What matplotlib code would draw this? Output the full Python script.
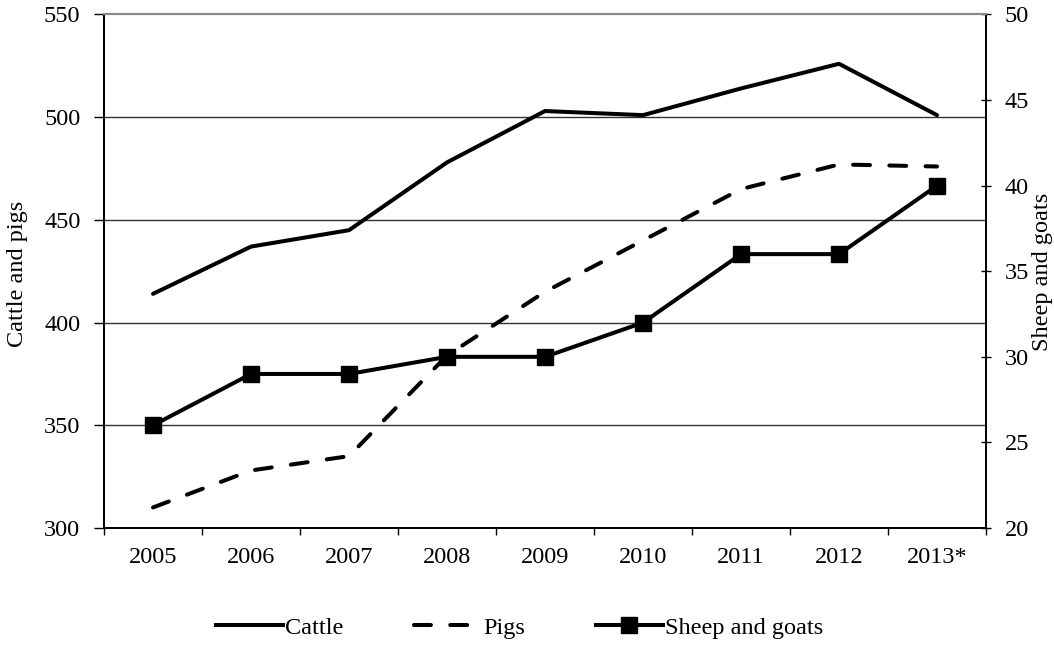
import matplotlib
matplotlib.use("Agg")
import matplotlib.pyplot as plt
from matplotlib.lines import Line2D

plt.rcParams['font.family'] = ['Liberation Serif', 'DejaVu Serif']

years = ["2005", "2006", "2007", "2008", "2009", "2010", "2011", "2012", "2013*"]
cattle = [414, 437, 445, 478, 503, 501, 514, 526, 501]
pigs = [310, 328, 335, 384, 415, 440, 465, 477, 476]
sheep_goats = [26, 29, 29, 30, 30, 32, 36, 36, 40]

left_ticks = [300, 350, 400, 450, 500, 550]
right_ticks = [20, 25, 30, 35, 40, 45, 50]

FS = 17.5
LW = 2.9
DASH = (0, (4.2, 4.8))

fig = plt.figure(figsize=(10.54, 6.5), dpi=100)
ax = fig.add_axes([0.0987, 0.1877, 0.8368, 0.79])
ax2 = ax.twinx()

x = list(range(len(years)))

# horizontal gridlines at the left-axis ticks
for v in left_ticks[1:-1]:
    ax.axhline(v, color='#333333', lw=1.0, zorder=1)

ax.plot(x, cattle, color='black', lw=LW, solid_capstyle='round',
        solid_joinstyle='round', zorder=3)
ax.plot(x, pigs, color='black', lw=LW, linestyle=DASH,
        dash_capstyle='round', zorder=3)
ax2.plot(x, sheep_goats, color='black', lw=LW, marker='s', markersize=12,
         zorder=3)

ax.set_xlim(-0.5, len(years) - 0.5)
ax.set_ylim(300, 550)
ax2.set_ylim(20, 50)

ax.set_xticks(x)
ax.set_xticklabels(years, fontsize=FS)
ax.set_xticks([i - 0.5 for i in range(len(years) + 1)], minor=True)
ax.tick_params(axis='x', which='major', length=0, pad=14)
ax.tick_params(axis='x', which='minor', length=5, width=1, direction='out')

ax.set_yticks(left_ticks)
ax.tick_params(axis='y', which='major', length=7, width=1, direction='out',
               pad=10, labelsize=FS)
ax2.set_yticks(right_ticks)
ax2.tick_params(axis='y', which='major', length=7, width=1, direction='inout',
                pad=10, labelsize=FS)

for a in (ax, ax2):
    for side in ('left', 'right', 'bottom'):
        a.spines[side].set_color('black')
        a.spines[side].set_linewidth(1.3)
    a.spines['top'].set_color('#888888')
    a.spines['top'].set_linewidth(1.5)

fig.text(0.0165, 0.578, "Cattle and pigs", rotation=90, fontsize=FS,
         ha='center', va='center')
fig.text(0.989, 0.582, "Sheep and goats", rotation=90, fontsize=FS,
         ha='center', va='center')

handles = [
    Line2D([], [], color='black', lw=LW),
    Line2D([], [], color='black', lw=LW, linestyle=DASH,
           dash_capstyle='round'),
    Line2D([], [], color='black', lw=LW, marker='s', markersize=12),
]
fig.legend(handles, ["Cattle", "Pigs", "Sheep and goats"], loc='center',
           bbox_to_anchor=(0.493, 0.034), ncol=3, frameon=False, fontsize=FS,
           handlelength=2.75, handletextpad=0.1, columnspacing=2.9)

fig.savefig("out.png", dpi=100)
